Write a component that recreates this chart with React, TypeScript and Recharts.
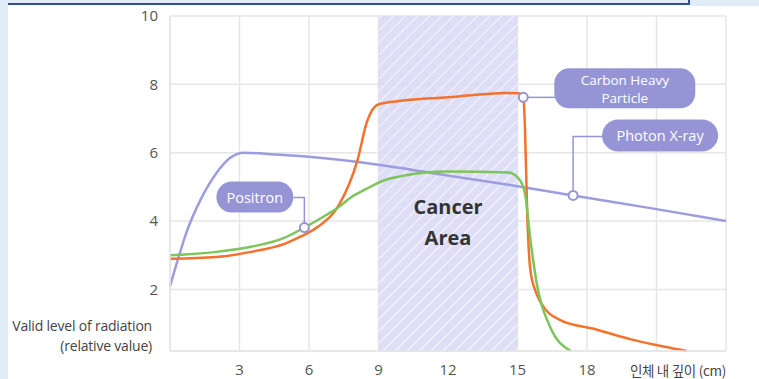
// Radiation dose vs depth chart (Photon / Positron / Carbon)

import React from 'react';
import {
  LineChart,
  Line,
  XAxis,
  YAxis,
  CartesianGrid,
  ReferenceArea,
  ReferenceDot,
} from 'recharts';

// depth (cm) and relative dose for each beam
const photonX = [0, 0.35, 0.7, 1.3, 2, 2.6, 3.2, 4.5, 6, 9, 12, 15, 17.4, 21, 24];
const photonY = [2.1, 2.9, 3.65, 4.6, 5.4, 5.85, 6.0, 5.95, 5.88, 5.65, 5.33, 5.02, 4.75, 4.35, 4.0];

const positronX = [0, 2, 3.5, 4.9, 5.8, 6.4, 7.3, 7.8, 8.5, 9.2, 10, 12, 14.6, 15.1, 15.35, 15.55, 15.8, 16.4, 17.3];
const positronY = [3.0, 3.1, 3.25, 3.5, 3.81, 4.04, 4.42, 4.69, 4.95, 5.18, 5.32, 5.45, 5.42, 5.2, 4.7, 3.5, 2.3, 0.92, 0.2];

const carbonX = [0, 2, 3.5, 5, 5.65, 6.4, 7.3, 8.1, 8.5, 9, 10, 12, 14.5, 15.05, 15.25, 15.32, 15.42, 15.55, 15.75, 16, 16.8, 18.4, 19.9, 21.3, 22.3];
const carbonY = [2.9, 2.95, 3.1, 3.35, 3.55, 3.84, 4.48, 5.8, 6.9, 7.42, 7.52, 7.62, 7.75, 7.74, 7.62, 6.8, 4.2, 2.6, 2.0, 1.62, 1.12, 0.83, 0.54, 0.33, 0.2];

const xTicks = [0, 3, 6, 9, 12, 15, 18, 21, 24];
const yTicks = [2, 4, 6, 8, 10];
const cancerRange = [9, 15];

const toPoints = (xs: number[], ys: number[]) => xs.map((x, i) => ({ x, y: ys[i] }));

const photonData = toPoints(photonX, photonY);
const positronData = toPoints(positronX, positronY);
const carbonData = toPoints(carbonX, carbonY);

const PURPLE = '#9c9ce0';
const BOX = '#9595d6';
const ORANGE = '#f3722c';
const GREEN = '#7cc45c';
const FONT = '"Open Sans", "Noto Sans", sans-serif';

const Marker = ({ cx, cy }: any) => (
  <circle cx={cx} cy={cy} r={4.5} fill="#fff" stroke={BOX} strokeWidth={2} />
);

const PositronCallout = ({ cx, cy }: any) => (
  <g>
    <path d={`M${cx - 11},${cy - 30} H${cx} V${cy - 4.5}`} fill="none" stroke={BOX} strokeWidth={1.5} />
    <rect x={cx - 88} y={cy - 46} width={77} height={31} rx={15.5} fill={BOX} />
    <text x={cx - 49.5} y={cy - 30.5} fill="#fff" fontSize={14.5} fontFamily={FONT} textAnchor="middle" dominantBaseline="central">
      Positron
    </text>
    <Marker cx={cx} cy={cy} />
  </g>
);

const CarbonCallout = ({ cx, cy }: any) => (
  <g>
    <path d={`M${cx + 4.5},${cy} H${cx + 32}`} fill="none" stroke={BOX} strokeWidth={1.5} />
    <rect x={cx + 31} y={cy - 29} width={141} height={40} rx={15} fill={BOX} />
    <text x={cx + 101.5} y={cy - 17} fill="#fff" fontSize={13.5} fontFamily={FONT} textAnchor="middle" dominantBaseline="central">
      Carbon Heavy
    </text>
    <text x={cx + 101.5} y={cy + 0.5} fill="#fff" fontSize={13.5} fontFamily={FONT} textAnchor="middle" dominantBaseline="central">
      Particle
    </text>
    <Marker cx={cx} cy={cy} />
  </g>
);

const PhotonCallout = ({ cx, cy }: any) => (
  <g>
    <path d={`M${cx},${cy - 4.5} V${cy - 59} H${cx + 30}`} fill="none" stroke={BOX} strokeWidth={1.5} />
    <rect x={cx + 29} y={cy - 76} width={116} height={32} rx={16} fill={BOX} />
    <text x={cx + 87} y={cy - 60} fill="#fff" fontSize={14.5} fontFamily={FONT} textAnchor="middle" dominantBaseline="central">
      Photon X-ray
    </text>
    <Marker cx={cx} cy={cy} />
  </g>
);

const CancerLabel = ({ viewBox }: any) => {
  const { x, y, width, height } = viewBox;
  const mx = x + width / 2;
  return (
    <g>
      <text x={mx} y={y + height * 0.57} fill="#333" fontSize={20} fontWeight={700} fontFamily={FONT} textAnchor="middle" dominantBaseline="central">
        Cancer
      </text>
      <text x={mx} y={y + height * 0.57 + 31} fill="#333" fontSize={20} fontWeight={700} fontFamily={FONT} textAnchor="middle" dominantBaseline="central">
        Area
      </text>
    </g>
  );
};

const YLabel = ({ viewBox }: any) => {
  const { x, y, width, height } = viewBox;
  const rx = x + width - 18;
  return (
    <g>
      <text x={rx} y={y + height - 26} fill="#444" fontSize={14} letterSpacing={-0.2} fontFamily={FONT} textAnchor="end" dominantBaseline="central">
        Valid level of radiation
      </text>
      <text x={rx} y={y + height - 6} fill="#444" fontSize={14} letterSpacing={-0.2} fontFamily={FONT} textAnchor="end" dominantBaseline="central">
        (relative value)
      </text>
    </g>
  );
};

const XLabel = ({ viewBox }: any) => {
  const { x, y, width } = viewBox;
  return (
    <text x={x + width} y={y + 19} fill="#444" fontSize={13.5} letterSpacing={-0.3} fontFamily='"Noto Sans CJK KR", sans-serif' textAnchor="end" dominantBaseline="central">
      인체 내 깊이 (cm)
    </text>
  );
};

export default function App() {
  return (
    <div style={{ position: 'fixed', left: 0, top: 0, width: 759, height: 379, background: '#fff', overflow: 'hidden' }}>
      <div style={{ position: 'absolute', left: 0, top: 0, width: 8, height: 379, background: '#e1ecf9' }} />
      <div style={{ position: 'absolute', left: 0, top: 0, width: 759, height: 3, background: '#e1ecf9' }} />
      <div style={{ position: 'absolute', left: 8, top: 3, width: 682, height: 2, background: '#2f4f8f' }} />
      <div style={{ position: 'absolute', left: 688, top: 0, width: 2, height: 5, background: '#2f4f8f' }} />
      <div style={{ position: 'absolute', left: 690, top: 0, width: 69, height: 6, background: '#e1ecf9' }} />

      <LineChart width={759} height={379} margin={{ top: 16, right: 33, bottom: 0, left: 0 }} style={{ position: 'absolute', left: 0, top: 0 }}>
        <defs>
          <pattern id="hatch" patternUnits="userSpaceOnUse" width={8.5} height={8.5} patternTransform="rotate(45)">
            <rect width={8.5} height={8.5} fill="#dadaf6" />
            <line x1={0} y1={0} x2={0} y2={8.5} stroke="#fff" strokeWidth={1.6} />
          </pattern>
        </defs>
        <CartesianGrid stroke="#e6e6e6" strokeWidth={1.5} />
        <XAxis
          type="number"
          dataKey="x"
          domain={[0, 24]}
          ticks={xTicks}
          height={28}
          tickFormatter={(v: number) => (v === 0 || v >= 21 ? '' : String(v))}
          tickLine={false}
          tickSize={0}
          tickMargin={13}
          axisLine={{ stroke: '#e6e6e6', strokeWidth: 1.5 }}
          tick={{ fill: '#555', fontSize: 15, fontFamily: FONT }}
          label={<XLabel />}
        />
        <YAxis
          type="number"
          dataKey="y"
          domain={[0.2, 10]}
          ticks={yTicks}
          width={170}
          tickLine={false}
          tickSize={0}
          tickMargin={12}
          axisLine={{ stroke: '#e6e6e6', strokeWidth: 1.5 }}
          tick={{ fill: '#555', fontSize: 15, fontFamily: FONT }}
          label={<YLabel />}
        />
        <ReferenceArea x1={cancerRange[0]} x2={cancerRange[1]} y1={0.2} y2={10} fill="url(#hatch)" fillOpacity={0.9} stroke="none" label={<CancerLabel />} />
        <Line data={photonData} dataKey="y" type="monotone" stroke={PURPLE} strokeWidth={2.5} dot={false} activeDot={false} isAnimationActive={false} />
        <Line data={carbonData} dataKey="y" type="monotone" stroke={ORANGE} strokeWidth={2.5} dot={false} activeDot={false} isAnimationActive={false} />
        <Line data={positronData} dataKey="y" type="monotone" stroke={GREEN} strokeWidth={2.5} dot={false} activeDot={false} isAnimationActive={false} />
        <ReferenceDot x={5.8} y={3.81} shape={<PositronCallout />} />
        <ReferenceDot x={15.25} y={7.62} shape={<CarbonCallout />} />
        <ReferenceDot x={17.4} y={4.75} shape={<PhotonCallout />} />
      </LineChart>
    </div>
  );
}
